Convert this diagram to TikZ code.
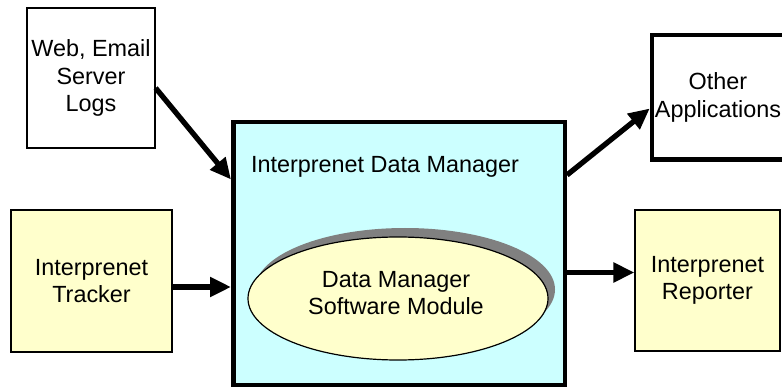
\documentclass[tikz,border=0pt]{standalone}
\usepackage{fontspec}
\setmainfont{Liberation Sans}
\usetikzlibrary{arrows.meta,shapes.geometric,shadows}
\definecolor{mainfill}{HTML}{CCFFFF}
\definecolor{yel}{HTML}{FFFFCC}
\definecolor{shad}{HTML}{808080}
\tikzset{
  txt/.style={font=\fontsize{23.4}{27.5}\selectfont, align=center, inner sep=0pt},
  thinbox/.style={txt, draw, rectangle, line width=1.2pt},
  thickbox/.style={txt, draw, rectangle, line width=4.5pt},
  arr/.style={line width=5.3pt, -{Triangle[length=21pt,width=19pt]}},
}
\begin{document}
\begin{tikzpicture}[x=1pt,y=-1pt]
\clip (0,0) rectangle (782,390);
\fill[white] (0,0) rectangle (782,390);
\node[thinbox, minimum width=128pt, minimum height=140pt] (web) at (91,78) {Web, Email\\Server\\Logs};
\node[thinbox, fill=yel, minimum width=161pt, minimum height=142pt] (tracker) at (91.5,281) {Interprenet\\Tracker};
\node[thickbox, fill=mainfill, minimum width=331.5pt, minimum height=262.5pt] (main) at (399,253.5) {};
\node[txt] (title) at (385,167) {Interprenet Data Manager};
\node[draw, line width=1.2pt, fill=yel, ellipse, minimum width=300pt, minimum height=123pt,
      general shadow={fill=shad, shadow xshift=7pt, shadow yshift=9pt}] (module) at (398,298.5) {};
\node[txt] (modtext) at (396,293) {Data Manager\\Software Module};
\node[thickbox, minimum width=132pt, minimum height=124.5pt] (other) at (718,97.5) {Other\\Applications};
\node[thinbox, fill=yel, minimum width=145pt, minimum height=141pt] (reporter) at (707.5,280.5) {Interprenet\\Reporter};
\draw[arr] ([yshift=-10pt]web.east) -- ([yshift=74pt]main.west);
\draw[arr] ([yshift=-6pt]tracker.east) -- ([yshift=-6pt]tracker.east -| main.west);
\draw[arr] ([yshift=8pt]reporter.west -| main.east) -- ([yshift=8pt]reporter.west);
\draw[arr] ([yshift=-55pt]main.north east) -- ([yshift=-11pt]other.west);
\end{tikzpicture}
\end{document}
